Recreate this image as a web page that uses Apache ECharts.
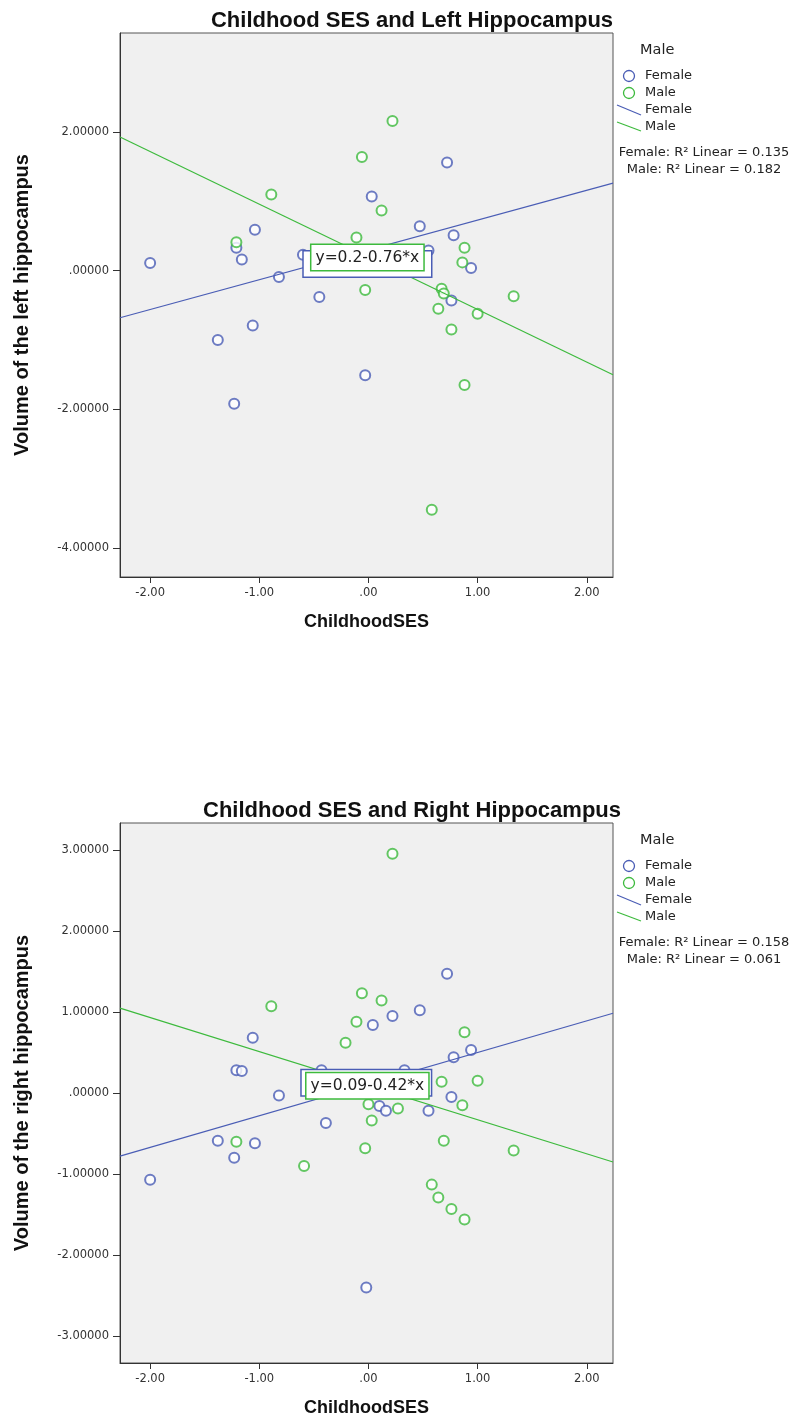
<!DOCTYPE html>
<html>
<head>
<meta charset="utf-8">
<script src="https://cdn.jsdelivr.net/npm/echarts@6/dist/echarts.min.js"></script>
<style>
html,body{margin:0;padding:0;background:#fff;}
#chart{width:800px;height:1424px;}
</style>
</head>
<body>
<div id="chart"></div>
<script>
// ---------- DATA ----------
// Top chart: Childhood SES vs left hippocampus volume
const leftFemale = [
  [-2.00, 0.11], [-1.38, -1.00], [-1.23, -1.92], [-1.21, 0.33], [-1.16, 0.16],
  [-1.06, -0.79], [-1.04, 0.59], [-0.82, -0.09], [-0.60, 0.23], [-0.45, -0.38],
  [-0.03, -1.51], [0.03, 1.07], [0.47, 0.64], [0.55, 0.29], [0.72, 1.56],
  [0.76, -0.43], [0.78, 0.51], [0.94, 0.04]
];
const leftMale = [
  [-1.21, 0.41], [-0.89, 1.10], [-0.11, 0.48], [-0.06, 1.64], [-0.03, -0.28],
  [0.12, 0.87], [0.22, 2.16], [0.58, -3.45], [0.64, -0.55], [0.67, -0.26],
  [0.69, -0.33], [0.76, -0.85], [0.86, 0.12], [0.88, 0.33], [0.88, -1.65],
  [1.00, -0.62], [1.33, -0.37]
];
// Bottom chart: Childhood SES vs right hippocampus volume
const rightFemale = [
  [-2.00, -1.07], [-1.38, -0.59], [-1.23, -0.80], [-1.21, 0.28], [-1.16, 0.27],
  [-1.06, 0.68], [-1.04, -0.62], [-0.82, -0.03], [-0.43, 0.28], [-0.39, -0.37],
  [-0.02, -2.40], [0.04, 0.84], [0.10, -0.16], [0.16, -0.22], [0.22, 0.95],
  [0.33, 0.28], [0.47, 1.02], [0.55, -0.22], [0.72, 1.47], [0.76, -0.05],
  [0.78, 0.44], [0.94, 0.53]
];
const rightMale = [
  [-1.21, -0.60], [-0.89, 1.07], [-0.59, -0.90], [-0.21, 0.62], [-0.11, 0.88],
  [-0.06, 1.23], [-0.03, -0.68], [0.00, -0.14], [0.03, -0.34], [0.12, 1.14],
  [0.22, 2.95], [0.27, -0.19], [0.58, -1.13], [0.64, -1.29], [0.67, 0.14],
  [0.69, -0.59], [0.76, -1.43], [0.86, -0.15], [0.88, 0.75], [0.88, -1.56],
  [1.00, 0.15], [1.33, -0.71]
];
// Fit lines [intercept, slope]
const leftFemaleFit = [0.30, 0.43];
const leftMaleFit = [0.20, -0.76];
const rightFemaleFit = [0.11, 0.39];
const rightMaleFit = [0.09, -0.42];
// Fit line equation labels and label anchor points
const leftFemaleEq = 'y=0.3+0.43*x';
const leftMaleEq = 'y=0.2-0.76*x';
const rightFemaleEq = 'y=0.11+0.39*x';
const rightMaleEq = 'y=0.09-0.42*x';
const leftFemaleEqAt = [-0.01, 0.095];
const leftMaleEqAt = [-0.01, 0.19];
const rightFemaleEqAt = [-0.02, 0.125];
const rightMaleEqAt = [-0.01, 0.09];
// Axis tick values
const xTicks = [-2, -1, 0, 1, 2];
const leftYTicks = [-4, -2, 0, 2];
const rightYTicks = [-3, -2, -1, 0, 1, 2, 3];
// Axis ranges
const xRange = [-2.276, 2.24];
const leftYRange = [-4.42, 3.43];
const rightYRange = [-3.33, 3.33];
// Legend texts
const leftR2 = ['Female: R\u00B2 Linear = 0.135', 'Male: R\u00B2 Linear = 0.182'];
const rightR2 = ['Female: R\u00B2 Linear = 0.158', 'Male: R\u00B2 Linear = 0.061'];

// ---------- STYLE ----------
const BLUE = '#4A5DB5';
const GREEN = '#3DBA3D';
const AXIS = '#333';
const FONT = "'DejaVu Sans', sans-serif";
const BOLD = "'Liberation Sans', Arial, sans-serif";

function fmtX(v){ let s = Math.abs(v).toFixed(2); if (s.startsWith('0')) s = s.slice(1); return (v < 0 ? '-' : '') + s; }
function fmtY(v){ let s = Math.abs(v).toFixed(5); if (s.startsWith('0')) s = s.slice(1); return (v < 0 ? '-' : '') + s; }

function fitLine(fit){
  return [[xRange[0], fit[0] + fit[1]*xRange[0]], [xRange[1], fit[0] + fit[1]*xRange[1]]];
}

function xAxisDef(gridIndex){
  return {
    gridIndex, type:'value', min:xRange[0], max:xRange[1],
    name:'ChildhoodSES', nameLocation:'middle', nameGap:36,
    nameTextStyle:{fontFamily:BOLD, fontWeight:'bold', fontSize:18, color:'#111'},
    axisLine:{show:true, onZero:false, lineStyle:{color:AXIS, width:1}},
    axisTick:{show:true, inside:false, length:6, customValues:xTicks, lineStyle:{color:AXIS}},
    axisLabel:{show:true, customValues:xTicks, formatter:fmtX, margin:10, fontFamily:FONT, fontSize:11.5, color:'#333'},
    splitLine:{show:false}
  };
}
function yAxisDef(gridIndex, range, ticks, name){
  return {
    gridIndex, type:'value', min:range[0], max:range[1],
    name, nameLocation:'middle', nameGap:88, nameRotate:90,
    nameTextStyle:{fontFamily:BOLD, fontWeight:'bold', fontSize:20, color:'#111'},
    axisLine:{show:true, onZero:false, lineStyle:{color:AXIS, width:1}},
    axisTick:{show:true, inside:false, length:7, customValues:ticks, lineStyle:{color:AXIS}},
    axisLabel:{show:true, customValues:ticks, formatter:fmtY, margin:11, fontFamily:FONT, fontSize:11.5, color:'#333'},
    splitLine:{show:false}
  };
}
function scatter(data, color, idx){
  return {
    type:'scatter', xAxisIndex:idx, yAxisIndex:idx, data,
    symbol:'emptyCircle', symbolSize:10,
    itemStyle:{color:color, borderColor:color, borderWidth:1.2},
    z:3, silent:true
  };
}
function fit(fitArr, color, idx, eq, at, z, mz, padX){
  return {
    type:'line', xAxisIndex:idx, yAxisIndex:idx, data:fitLine(fitArr),
    showSymbol:false, symbol:'none', lineStyle:{color, width:1.2}, z, silent:true,
    markPoint:{
      symbol:'rect', symbolSize:0, silent:true, z:mz,
      data:[{coord:at, value:0}],
      label:{show:true, position:'inside', formatter:eq,
        backgroundColor:'#fff', borderColor:color, borderWidth:1.5,
        padding:[5,padX,4,padX], color:'#222', fontFamily:FONT, fontSize:15.5}
    }
  };
}

function legend(top, r2){
  const st = (txt, size, extra) => Object.assign({text:txt, fontFamily:FONT, fontSize:size, fill:'#222', textVerticalAlign:'middle'}, extra||{});
  const t = (txt, x, y) => ({type:'text', x, y, style:st(txt, 13)});
  return [
    {type:'text', x:640, y:top, style:st('Male', 14.5)},
    {type:'circle', shape:{cx:629, cy:top+26, r:5.5}, style:{fill:'none', stroke:BLUE, lineWidth:1.3}},
    t('Female', 645, top+26),
    {type:'circle', shape:{cx:629, cy:top+43, r:5.5}, style:{fill:'none', stroke:GREEN, lineWidth:1.3}},
    t('Male', 645, top+43),
    {type:'line', shape:{x1:617, y1:top+55, x2:641, y2:top+65}, style:{stroke:BLUE, lineWidth:1.2}},
    t('Female', 645, top+60),
    {type:'line', shape:{x1:617, y1:top+72, x2:641, y2:top+81}, style:{stroke:GREEN, lineWidth:1.2}},
    t('Male', 645, top+77),
    {type:'text', x:704, y:top+103, style:st(r2[0], 13, {textAlign:'center'})},
    {type:'text', x:704, y:top+120, style:st(r2[1], 13, {textAlign:'center'})}
  ];
}

const chart = echarts.init(document.getElementById('chart'), null, {renderer:'canvas'});
chart.setOption({
  backgroundColor:'#fff',
  animation:false,
  title:[
    {text:'Childhood SES and Left Hippocampus', left:407, top:5, textAlign:'center',
      textStyle:{fontFamily:BOLD, fontWeight:'bold', fontSize:22, color:'#111'}},
    {text:'Childhood SES and Right Hippocampus', left:407, top:795, textAlign:'center',
      textStyle:{fontFamily:BOLD, fontWeight:'bold', fontSize:22, color:'#111'}}
  ],
  grid:[
    {left:120, top:33, width:493, height:544, show:true, backgroundColor:'#f0f0f0', borderColor:'#555', borderWidth:1},
    {left:120, top:823, width:493, height:540, show:true, backgroundColor:'#f0f0f0', borderColor:'#555', borderWidth:1}
  ],
  xAxis:[xAxisDef(0), xAxisDef(1)],
  yAxis:[
    yAxisDef(0, leftYRange, leftYTicks, 'Volume of the left hippocampus'),
    yAxisDef(1, rightYRange, rightYTicks, 'Volume of the right hippocampus')
  ],
  series:[
    scatter(leftFemale, BLUE, 0),
    scatter(leftMale, GREEN, 0),
    fit(leftFemaleFit, BLUE, 0, leftFemaleEq, leftFemaleEqAt, 4, 10, 8),
    fit(leftMaleFit, GREEN, 0, leftMaleEq, leftMaleEqAt, 5, 11, 4),
    scatter(rightFemale, BLUE, 1),
    scatter(rightMale, GREEN, 1),
    fit(rightFemaleFit, BLUE, 1, rightFemaleEq, rightFemaleEqAt, 4, 10, 4),
    fit(rightMaleFit, GREEN, 1, rightMaleEq, rightMaleEqAt, 5, 11, 4)
  ],
  graphic:[].concat(legend(50, leftR2), legend(840, rightR2))
});
</script>
</body>
</html>
